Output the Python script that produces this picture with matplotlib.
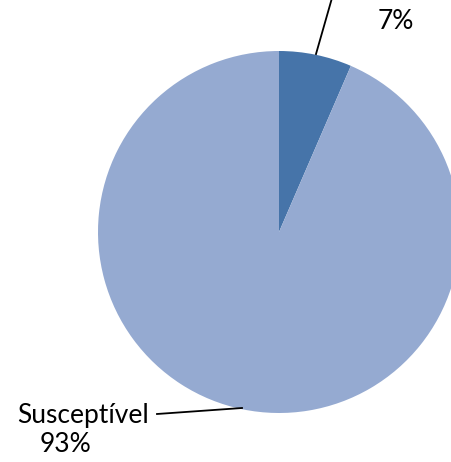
import matplotlib.pyplot as plt

# dados
categorias = ["Resistente", "Susceptível"]
valores = [6.5, 93.5]
rotulos = ["7%", "93%"]
cores = ["#4674A9", "#95AAD1"]

fig = plt.figure(figsize=(4.52, 4.62), dpi=100)
ax = fig.add_axes([0, 0, 1, 1])

# pizza em coordenadas de pixel
cx, cy, r = 279, 462 - 232, 181
ax.pie(valores, colors=cores, startangle=90, counterclock=False,
       center=(cx, cy), radius=r, frame=True)
ax.set_xlim(0, 452)
ax.set_ylim(0, 462)
ax.set_aspect("equal")
ax.axis("off")

fonte = dict(family="Lato", fontsize=19, color="black")

# rótulo 7% (nome fica fora da figura)
ax.plot([316, 332], [462 - 54, 462 + 2], color="black", lw=1.3, clip_on=False)
ax.text(396, 462 - 21, rotulos[0], ha="center", va="center", **fonte)

# rótulo Susceptível
ax.plot([157, 242], [462 - 414, 462 - 408], color="black", lw=1.3)
ax.text(83, 462 - 416, categorias[1], ha="center", va="center", **fonte)
ax.text(66, 462 - 445, rotulos[1], ha="center", va="center", **fonte)

plt.savefig("out.png", dpi=100)
